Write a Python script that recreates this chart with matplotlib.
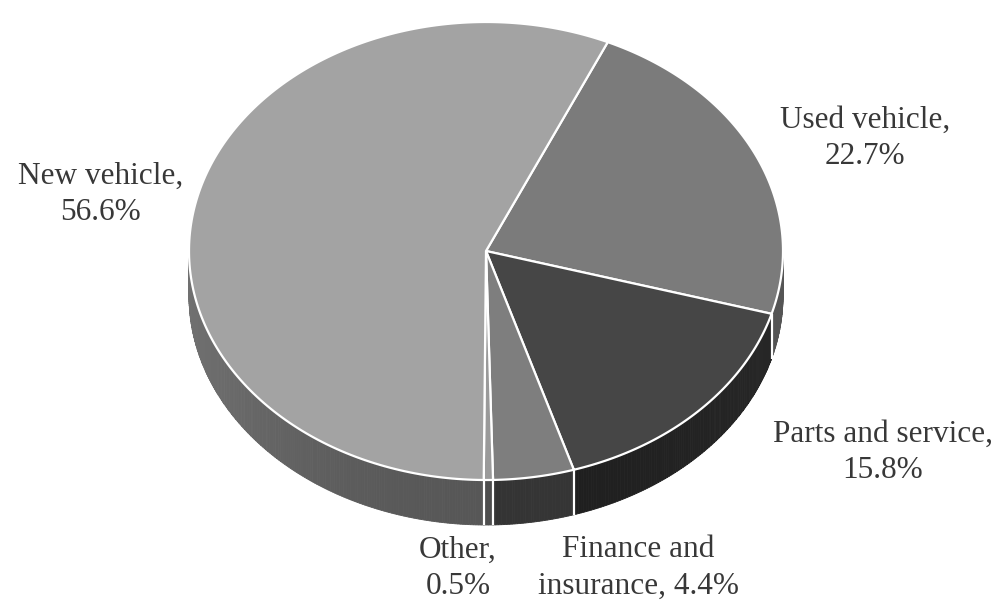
import numpy as np
import matplotlib
matplotlib.use("Agg")
import matplotlib.pyplot as plt
from matplotlib.patches import Polygon

# revenue share by department, clockwise from the first slice
names = ["Used vehicle", "Parts and service", "Finance and\ninsurance",
         "Other", "New vehicle"]
shares = [22.7, 15.8, 4.4, 0.5, 56.6]

top_colors = ["#7b7b7b", "#464646", "#7e7e7e", "#9a9a9a", "#a3a3a3"]
side_colors = ["#4c4c4c", "#232323", "#3c3c3c", "#5a5a5a", "#646464"]

# where each label block is centred (pixels)
label_xy = [(865, 138), (883, 452), (638, 568), (458, 568), (101, 194)]

# ellipse geometry in pixel units
cx, cy = 486, 251
rx, ry = 297, 229
depth = 45
start = 24.2  # degrees clockwise from 12 o'clock


def rim(theta_deg, drop=0.0):
    t = np.radians(theta_deg)
    return cx + rx * np.sin(t), cy - ry * np.cos(t) + drop


fig = plt.figure(figsize=(9.99, 6.04), dpi=100)
ax = fig.add_axes([0, 0, 1, 1])
ax.set_xlim(0, 999)
ax.set_ylim(604, 0)
ax.axis("off")

total = sum(shares)
bounds = [start]
for s in shares:
    bounds.append(bounds[-1] + s / total * 360.0)

# side walls, only the front half is visible
for i in range(len(shares)):
    a0, a1 = bounds[i], bounds[i + 1]
    for k in (-360, 0, 360):
        lo, hi = max(a0 + k, 90), min(a1 + k, 270)
        if hi <= lo:
            continue
        steps = np.linspace(lo, hi, max(int((hi - lo) * 2), 2))
        base = np.array(matplotlib.colors.to_rgb(side_colors[i]))
        for j in range(len(steps) - 1):
            t0, t1 = steps[j], steps[j + 1]
            mid = 0.5 * (t0 + t1)
            shade = 1.12 - 0.25 * abs(np.cos(np.radians(mid - 180))) ** 2
            col = np.clip(base * shade, 0, 1)
            arc = np.linspace(t0, t1, 4)
            xs, ys = rim(arc)
            pts = np.concatenate([np.column_stack([xs, ys]),
                                  np.column_stack([xs, ys + depth])[::-1]])
            ax.add_patch(Polygon(pts, closed=True, facecolor=col,
                                 edgecolor=col, lw=0.6))

# white seams where slices meet on the wall
for b in bounds:
    b = b % 360
    if 90 <= b <= 270:
        x, y = rim(b)
        ax.plot([x, x], [y, y + depth], color="white", lw=1.6,
                solid_capstyle="butt")

# top faces
for i in range(len(shares)):
    arc = np.linspace(bounds[i], bounds[i + 1], 200)
    xs, ys = rim(arc)
    pts = np.vstack([[cx, cy], np.column_stack([xs, ys])])
    ax.add_patch(Polygon(pts, closed=True, facecolor=top_colors[i],
                         edgecolor="white", lw=1.6, joinstyle="round"))

for name, v, (lx, ly) in zip(names, shares, label_xy):
    if "\n" in name:
        txt = f"{name}, {v}%"
    else:
        txt = f"{name},\n{v}%"
    ax.text(lx, ly, txt, ha="center", va="center", fontsize=22.5,
            family="Liberation Serif", color="#383838", linespacing=1.32)

fig.savefig("out.png", dpi=100)
